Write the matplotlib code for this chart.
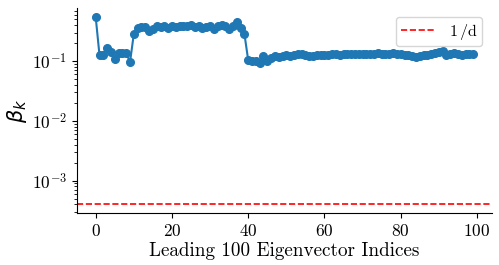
import matplotlib
matplotlib.use("Agg")
import matplotlib.pyplot as plt
import numpy as np

plt.rcParams['font.family'] = 'serif'
plt.rcParams['font.serif'] = ['cmr10', 'DejaVu Serif']
plt.rcParams['mathtext.fontset'] = 'cm'
plt.rcParams['axes.formatter.use_mathtext'] = True
plt.rcParams['axes.unicode_minus'] = False

indices = list(range(100))
beta = [
    0.54, 0.124, 0.128, 0.165, 0.141, 0.108, 0.136, 0.137, 0.137, 0.096,
    0.286, 0.36, 0.37, 0.37, 0.32, 0.34, 0.39, 0.37, 0.39, 0.36,
    0.39, 0.37, 0.38, 0.39, 0.38, 0.40, 0.37, 0.38, 0.36, 0.37,
    0.38, 0.35, 0.38, 0.40, 0.39, 0.34, 0.38, 0.45, 0.36, 0.286,
    0.103, 0.100, 0.100, 0.093, 0.120, 0.100, 0.114, 0.120, 0.118, 0.121,
    0.124, 0.122, 0.128, 0.133, 0.130, 0.127, 0.123, 0.122, 0.124, 0.126,
    0.128, 0.127, 0.129, 0.131, 0.128, 0.132, 0.130, 0.129, 0.131, 0.133,
    0.132, 0.130, 0.133, 0.131, 0.134, 0.132, 0.130, 0.133, 0.135, 0.131,
    0.132, 0.128, 0.124, 0.120, 0.117, 0.123, 0.128, 0.126, 0.133, 0.138,
    0.140, 0.150, 0.128, 0.131, 0.136, 0.132, 0.127, 0.129, 0.133, 0.129,
]
threshold = 4.1e-4

fig = plt.figure(figsize=(4.99, 2.65), dpi=100)
ax = fig.add_axes([0.154, 0.196, 0.832, 0.774])
ax.plot(indices, beta, '-o', color='#1f77b4', markersize=5.5, linewidth=1.5)
ax.axhline(threshold, color='red', linestyle='--', linewidth=1.2, label=r'$1\,/\mathrm{d}$')
ax.set_yscale('log')
ax.set_xticks([0, 20, 40, 60, 80, 100])
ax.tick_params(labelsize=12.5)
ax.set_xlabel('Leading 100 Eigenvector Indices', fontsize=13.8, labelpad=2)
ax.set_ylabel(r'$\beta_k$', fontsize=15, math_fontfamily='dejavusans', labelpad=2)
ax.spines['top'].set_visible(False)
ax.spines['right'].set_visible(False)
ax.legend(loc='upper right', fontsize=11.5, handlelength=2.2, borderpad=0.3,
          borderaxespad=0, bbox_to_anchor=(1 - 10 / 415, 1 - 9 / 206))

fig.savefig('out.png', dpi=100)
